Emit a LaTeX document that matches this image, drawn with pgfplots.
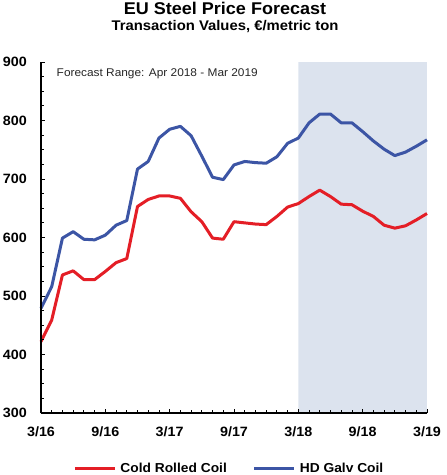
\documentclass[border=0pt]{standalone}
\usepackage{fontspec}
\setmainfont{Liberation Sans}[FakeStretch=1.06]
\usepackage{pgfplots}
\pgfplotsset{compat=1.18}
\definecolor{crc}{HTML}{E41E26}
\definecolor{hdg}{HTML}{3C55A5}
\definecolor{shade}{HTML}{DCE3EE}

\pgfplotstableread{
m crc hdg
0 422 479
1 459 516
2 536 599
3 543 610
4 528 597
5 528 596
6 542 604
7 557 621
8 564 629
9 653 717
10 665 730
11 671 770
12 671 785
13 667 790
14 644 774
15 627 739
16 599 703
17 597 699
18 627 724
19 625 730
20 623 728
21 622 727
22 636 738
23 652 761
24 658 770
25 670 796
26 681 811
27 670 811
28 657 796
29 656 796
30 645 781
31 636 765
32 621 751
33 616 740
34 620 746
35 630 756
36 641 767
}\datatable

\begin{document}
\begin{tikzpicture}
\begin{axis}[
  scale only axis, width=386pt, height=351pt,
  at={(0,0)}, anchor=south west,
  xmin=0, xmax=36, ymin=300, ymax=900,
  axis lines*=left,
  axis on top,
  clip=false,
  xtick={0,6,...,36},
  xticklabels={3/16,9/16,3/17,9/17,3/18,9/18,3/19},
  minor xtick={0,...,36},
  ytick={300,400,...,900},
  minor ytick={300,325,...,900},
  tick align=inside,
  major tick length=4pt, minor tick length=3.5pt,
  tick style={black, line width=0.8pt},
  axis line style={black, line width=1.3pt},
  /pgf/number format/assume math mode=true,
  tick label style={font=\bfseries\fontsize{13.5}{14}\selectfont},
  xticklabel style={anchor=base, inner sep=0pt, yshift=-23pt},
  yticklabel style={anchor=east, inner sep=0pt, xshift=-14pt},
  legend columns=2,
  legend style={at={(0.488,-0.159)}, anchor=center, draw=none, fill=none,
    font=\bfseries\fontsize{13}{14}\selectfont, inner sep=0pt,
    /tikz/every odd column/.style={column sep=2pt},
    /tikz/every even column/.style={column sep=24pt}},
  legend image code/.code={\draw[#1, line width=3pt] (0pt,0pt) -- (40pt,0pt);},
]
\addplot[fill=shade, draw=none, forget plot] coordinates {(24,300) (24,900) (36,900) (36,300)} \closedcycle;
\addplot[crc, line width=3pt, line join=round] table[x=m, y=crc] {\datatable};
\addlegendentry{Cold Rolled Coil}
\addplot[hdg, line width=3pt, line join=round] table[x=m, y=hdg] {\datatable};
\addlegendentry{HD Galv Coil}
\node[anchor=west, inner sep=0pt, font=\fontsize{11.2}{12}\selectfont, text=black!85] at (axis cs:1.45,879.5) {Forecast Range: Apr 2018 - Mar 2019};
\end{axis}
\node[anchor=base, inner sep=0pt, font=\bfseries\fontsize{17}{18}\selectfont] at (184pt,398pt) {EU Steel Price Forecast};
\node[anchor=base, inner sep=0pt, font=\bfseries\fontsize{14}{15}\selectfont] at (184pt,382pt) {Transaction Values, €/metric ton};
\pgfresetboundingbox
\path (-41pt,-62pt) rectangle (406pt,413pt);
\end{tikzpicture}
\end{document}
